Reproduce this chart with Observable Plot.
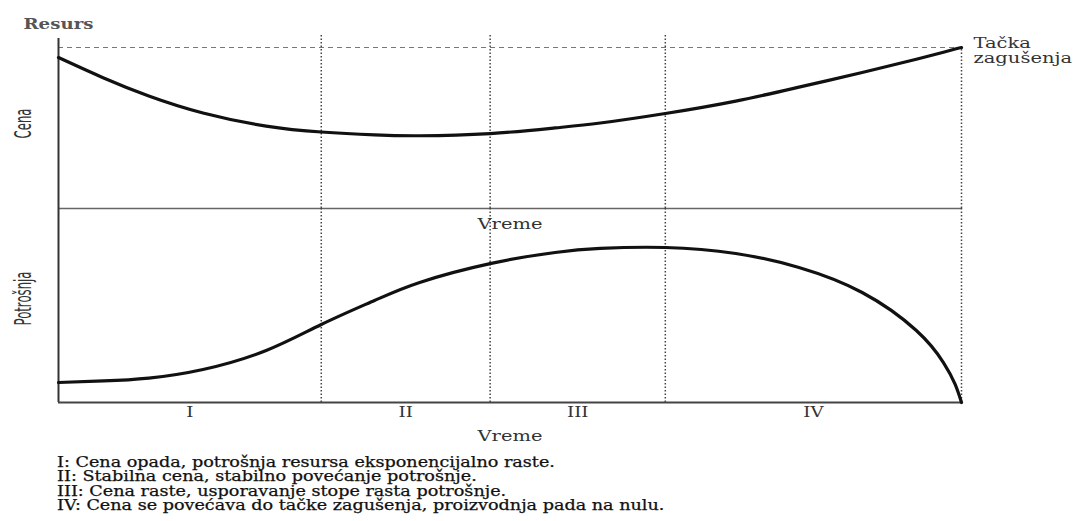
<!DOCTYPE html>
<html><head><meta charset="utf-8">
<script src="https://cdn.jsdelivr.net/npm/d3@7"></script>
<script src="https://cdn.jsdelivr.net/npm/@observablehq/plot@0.6"></script>
<style>
body{margin:0;background:#fff;}
#wrap{position:relative;width:1078px;height:521px;overflow:hidden;background:#fff;}
#top,#bottom{position:absolute;left:0;}
#top{top:0;}
#bottom{top:198px;}
#caption{position:absolute;left:57px;top:455px;font-family:"DejaVu Serif",serif;font-size:14.3px;line-height:14.3px;color:#111;-webkit-text-stroke:0.25px #111;transform-origin:0 0;transform:scaleX(1.23);white-space:nowrap;}
</style></head><body>
<div id="wrap"><div id="top"></div><div id="bottom"></div><div id="caption"></div></div>
<script>
// time (0 = start, 100 = choke point)
const time        = [0, 5, 10, 16, 23, 29.1, 35, 40, 47.8, 55, 60, 67.2, 75, 82, 89, 95, 98, 99.3, 100];
const price       = [88.8, 76.8, 66.2, 56.2, 48.5, 45.0, 43.3, 42.8, 44.1, 47.4, 50.3, 55.9, 63.2, 71.4, 80.0, 87.8, 91.9, 93.8, 94.7];
const consumption = [10.3, 11.1, 12.6, 17.0, 26.8, 40.2, 52.6, 61.9, 71.6, 77.3, 79.4, 79.9, 76.8, 69.6, 56.7, 37.1, 20.6, 9.3, 0];
const phaseBounds = [0, 29.1, 47.8, 67.2, 100];
const phaseLabels = ["I", "II", "III", "IV"];
const chokePrice  = 94.7;
const captionLines = [
  "I: Cena opada, potrošnja resursa eksponencijalno raste.",
  "II: Stabilna cena, stabilno povećanje potrošnje.",
  "III: Cena raste, usporavanje stope rasta potrošnje.",
  "IV: Cena se povećava do tačke zagušenja, proizvodnja pada na nulu."
];

const priceData = time.map((t, i) => ({t, v: price[i]}));
const consData  = time.map((t, i) => ({t, v: consumption[i]}));
const inner = phaseBounds.slice(1, -1);
const mids = phaseLabels.map((_, i) => (phaseBounds[i] + phaseBounds[i + 1]) / 2);
const midLabel = new Map(mids.map((m, i) => [m, phaseLabels[i]]));

const serif = "DejaVu Serif, Liberation Serif, serif";
const narrow = "Liberation Sans Narrow, DejaVu Sans Condensed, Liberation Sans, sans-serif";
const dotted = {stroke: "#444", strokeWidth: 1.5, strokeDasharray: "1.5,2"};

const topPlot = Plot.plot({
  width: 1078, height: 220, marginLeft: 58, marginRight: 117, marginTop: 38, marginBottom: 12,
  style: {background: "transparent", overflow: "visible", fontFamily: serif, color: "#333"},
  x: {domain: [0, 100], axis: null},
  y: {domain: [0, 100], axis: null},
  marks: [
    Plot.ruleY([chokePrice], {x1: 0, x2: 100, stroke: "#777", strokeWidth: 1.2, strokeDasharray: "5,4"}),
    Plot.ruleX(inner, {y1: 0, y2: 103, ...dotted}),
    Plot.ruleX([100], {y1: 0, y2: chokePrice, ...dotted}),
    Plot.ruleY([0], {x1: 0, x2: 100, stroke: "#666", strokeWidth: 1.5}),
    Plot.ruleX([0], {y1: 0, y2: 100, stroke: "#333", strokeWidth: 2}),
    Plot.line(priceData, {x: "t", y: "v", curve: "natural", stroke: "#111", strokeWidth: 3.2}),
    Plot.text(["Resurs"], {frameAnchor: "top-left", textAnchor: "start", lineAnchor: "middle", dx: -35, dy: -14, fontSize: 14, fontWeight: "bold", fill: "#555", fontFamily: serif}),
    Plot.text(["Tačka\nzagušenja"], {x: 100, y: chokePrice, textAnchor: "start", dx: 12, dy: 3, fontSize: 15, lineHeight: 1.02, fill: "#333", fontFamily: serif}),
    Plot.text(["Cena"], {frameAnchor: "left", textAnchor: "middle", lineAnchor: "middle", rotate: -90, dx: -35, fontSize: 13, fill: "#333", fontFamily: narrow})
  ]
});

const bottomPlot = Plot.plot({
  width: 1078, height: 260, marginLeft: 58, marginRight: 117, marginTop: 10, marginBottom: 56,
  style: {background: "transparent", overflow: "visible", fontFamily: serif, fontSize: "14px", color: "#333"},
  x: {domain: [0, 100], ticks: mids, tickFormat: d => midLabel.get(d), tickSize: 0, tickPadding: 5, label: null},
  y: {domain: [0, 100], axis: null},
  marks: [
    Plot.ruleX(inner, {y1: 0, y2: 100, ...dotted}),
    Plot.ruleX([100], {y1: 0, y2: 100, ...dotted}),
    Plot.ruleX([0], {y1: 0, y2: 100, stroke: "#333", strokeWidth: 2}),
    Plot.ruleY([0], {x1: 0, x2: 100, stroke: "#444", strokeWidth: 2}),
    Plot.line(consData, {x: "t", y: "v", curve: "natural", stroke: "#111", strokeWidth: 3.2}),
    Plot.text(["Vreme"], {frameAnchor: "top", lineAnchor: "middle", dy: 16, fontSize: 15, fill: "#333", fontFamily: serif}),
    Plot.text(["Vreme"], {frameAnchor: "bottom", lineAnchor: "middle", dy: 34, fontSize: 15, fill: "#333", fontFamily: serif}),
    Plot.text(["Potrošnja"], {frameAnchor: "left", textAnchor: "middle", lineAnchor: "middle", rotate: -90, dx: -35, dy: -7, fontSize: 13, fill: "#333", fontFamily: narrow})
  ]
});

// the scanned figure is stretched horizontally: widen texts along the page's x direction
function stretch(svg, k, kRot) {
  svg.querySelectorAll("text").forEach(t => {
    const tr = t.getAttribute("transform") || "";
    if (tr.includes("rotate")) {
      t.setAttribute("transform", tr.replace("rotate", `scale(${kRot},1) rotate`));
      return;
    }
    const x = parseFloat(t.getAttribute("x"));
    if (!isNaN(x)) t.setAttribute("x", x / k);
    t.setAttribute("transform", `${tr} scale(${k},1)`);
  });
}
stretch(topPlot, 1.3, 1.7);
stretch(bottomPlot, 1.3, 1.7);

document.getElementById("top").append(topPlot);
document.getElementById("bottom").append(bottomPlot);
const cap = document.getElementById("caption");
captionLines.forEach(l => { const d = document.createElement("div"); d.textContent = l; cap.append(d); });
</script>
</body></html>
